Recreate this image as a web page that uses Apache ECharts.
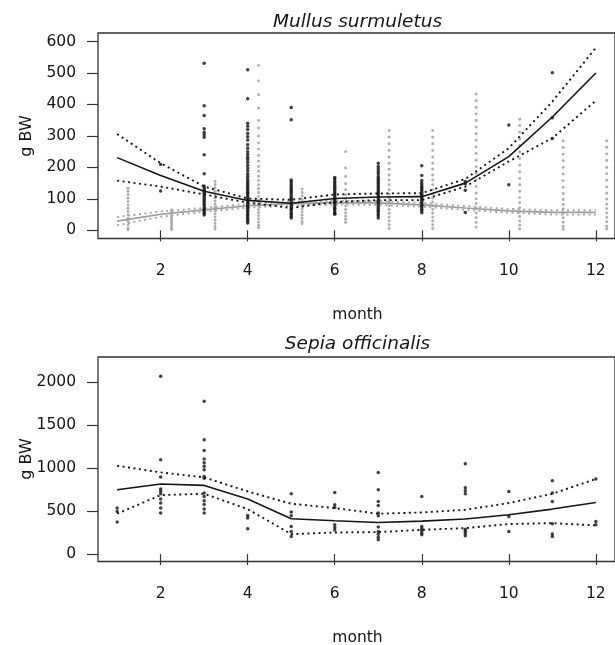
<!DOCTYPE html>
<html>
<head>
<meta charset="utf-8">
<script src="https://cdn.jsdelivr.net/npm/echarts/dist/echarts.min.js"></script>
<style>
html,body{margin:0;padding:0;background:#fff;}
#chart{width:615px;height:645px;}
</style>
</head>
<body>
<div id="chart"></div>
<script>
// ---------- DATA ----------
const months = [1,2,3,4,5,6,7,8,9,10,11,12];
const xTicks = [2,4,6,8,10,12];
const yTicksTop = [0,100,200,300,400,500,600];
const yTicksBottom = [0,500,1000,1500,2000];

const titleTop = "Mullus surmuletus";
const titleBottom = "Sepia officinalis";
const xName = "month";
const yName = "g BW";

// Mullus surmuletus: black points (at month)
const mullusBlack = [
  [],
  [209,125],
  [531,396,365,323,312,304,296,240,180,141,135,129,124,118,112,106,100,95,89,83,77,71,66,60,54,49],
  [510,418,340,331,320,308,297,287,272,261,250,241,232,225,216,207,198,189,180,172,164,157,151,145,139,133,127,121,116,110,104,98,93,87,81,75,70,64,58,52,47,41,35,29,23],
  [390,351,160,154,148,142,136,130,125,119,113,107,101,96,90,84,78,72,67,61,55,50,44,39],
  [168,163,157,151,145,140,134,128,122,117,111,105,99,93,88,82,76,70,65,59,54,51],
  [213,203,195,187,180,171,165,159,153,147,141,135,129,123,117,112,106,100,94,88,82,76,70,64,58,52,46,39],
  [205,174,158,150,144,138,133,127,121,115,109,103,98,92,86,80,74,68,62,56],
  [155,148,127,57],
  [335,145],
  [501,358,292],
  []
];
// Mullus surmuletus: grey points (plotted just right of each month)
const mullusGreyX = [1.25,2.25,3.25,4.25,5.25,6.25,7.25,8.25,9.25,10.25,11.25,12.25];
const mullusGrey = [
  [134,124,113,102,92,81,70,60,49,38,28,17,7,2],
  [65,58,50,42,35,28,21,14,7,2],
  [155,145,135,124,113,103,93,83,73,62,52,42,32,22,12,4],
  [524,475,431,388,349,325,300,278,258,238,220,203,188,172,158,145,132,120,108,96,86,76,66,56,46,36,26,16,8],
  [131,120,109,98,88,78,68,58,48,38,28,21],
  [250,198,171,148,129,113,100,88,77,66,55,45,35,25],
  [317,296,275,254,233,213,194,176,160,145,129,115,102,90,78,66,54,42,30,18,6],
  [317,296,275,254,233,213,194,176,160,145,129,115,102,90,78,66,54,42,30,18,6],
  [433,412,391,370,349,328,307,286,265,244,223,202,181,160,139,118,100,85,70,55,40,25,10],
  [353,333,312,290,270,249,228,207,186,165,145,124,104,88,72,58,44,30,16,4],
  [284,263,242,221,200,179,158,137,117,98,82,68,54,40,26,12,3],
  [284,264,243,222,200,180,159,138,118,99,83,69,55,41,27,13,4]
];
// Mullus fitted curves
const mullusBlackFit = [231,174,124,95,86,101,106,107,150,234,360,500];
const mullusBlackUp  = [306,213,139,101,97,114,117,118,163,261,409,580];
const mullusBlackLo  = [158,139,114,88,71,90,96,96,139,219,293,412];
const mullusGreyFit  = [29,51,65,78,85,88,87,81,71,62,57,57];
const mullusGreyUp   = [42,60,71,84,91,94,93,87,77,68,64,64];
const mullusGreyLo   = [16,43,59,72,79,82,81,75,65,56,50,50];

// Sepia officinalis points
const sepiaPts = [
  [535,496,372],
  [2065,1097,895,756,730,700,640,593,535,477],
  [1775,1329,1205,1105,1060,1020,980,902,880,709,670,620,575,525,477],
  [449,418,294],
  [701,488,445,321,263,205],
  [716,573,542,340,310,281],
  [949,748,612,565,477,445,314,263,230,195,166],
  [670,321,295,270,245,224],
  [1050,770,735,700,290,265,240,213],
  [728,437,263],
  [852,709,612,352,233,205],
  [872,379,341]
];
const sepiaFit = [748,814,798,639,410,387,368,383,407,457,523,600];
const sepiaUp  = [1027,949,891,728,585,535,469,484,515,593,701,872];
const sepiaLo  = [469,686,701,523,232,251,256,282,302,349,360,333];

// ---------- BUILD ----------
function pts(xs, groups){
  const out=[];
  groups.forEach((g,i)=>g.forEach(v=>out.push([xs[i],v])));
  return out;
}
function ln(vals){ return months.map((m,i)=>[m,vals[i]]); }

const FONT = "DejaVu Sans";
const TXT = "#151515";
const AX = "#333";

function xAxisCfg(gi){
  return {
    gridIndex: gi, type:'value', min:0.56, max:12.44,
    splitLine:{show:false}, axisLine:{show:false},
    axisTick:{show:true, length:11, customValues:xTicks, lineStyle:{color:AX,width:1.2}},
    axisLabel:{customValues:xTicks, margin:24, fontSize:15.5, fontFamily:FONT, color:TXT,
               formatter:(v)=>String(v)}
  };
}
function yAxisCfg(gi,min,max,ticks){
  return {
    gridIndex: gi, type:'value', min:min, max:max,
    splitLine:{show:false}, axisLine:{show:false},
    axisTick:{show:true, length:11, customValues:ticks, lineStyle:{color:AX,width:1.2}},
    axisLabel:{customValues:ticks, margin:22, fontSize:15.5, fontFamily:FONT, color:TXT,
               formatter:(v)=>String(v)}
  };
}
function lineS(xi, data, color, dotted, width, z){
  return {
    type:'line', xAxisIndex:xi, yAxisIndex:xi, data:data, showSymbol:false, symbol:'none',
    lineStyle:{color:color, width:width, type: dotted ? [2,3.5] : 'solid'},
    z:z, silent:true
  };
}
function scat(xi, data, color, size, z){
  return {
    type:'scatter', xAxisIndex:xi, yAxisIndex:xi, data:data, symbol:'circle', symbolSize:size,
    itemStyle:{color:color}, z:z, silent:true
  };
}

const option = {
  animation:false,
  backgroundColor:'#fff',
  grid:[
    {left:98, top:33, width:518, height:205.5, show:true, borderColor:AX, borderWidth:1.3, backgroundColor:'transparent'},
    {left:98, top:357, width:518, height:204.5, show:true, borderColor:AX, borderWidth:1.3, backgroundColor:'transparent'}
  ],
  xAxis:[xAxisCfg(0), xAxisCfg(1)],
  yAxis:[yAxisCfg(0,-26,627,yTicksTop), yAxisCfg(1,-86,2290,yTicksBottom)],
  series:[
    scat(0, pts(mullusGreyX, mullusGrey), '#999', 2.9, 2),
    lineS(0, ln(mullusGreyFit), '#9c9c9c', false, 1.7, 3),
    lineS(0, ln(mullusGreyUp), '#a5a5a5', true, 1.9, 3),
    lineS(0, ln(mullusGreyLo), '#a5a5a5', true, 1.9, 3),
    scat(0, pts(months, mullusBlack), '#111', 3.5, 4),
    lineS(0, ln(mullusBlackFit), '#151515', false, 1.6, 5),
    lineS(0, ln(mullusBlackUp), '#151515', true, 1.9, 5),
    lineS(0, ln(mullusBlackLo), '#151515', true, 1.9, 5),

    scat(1, pts(months, sepiaPts), '#111', 3.5, 4),
    lineS(1, ln(sepiaFit), '#151515', false, 1.6, 5),
    lineS(1, ln(sepiaUp), '#151515', true, 1.9, 5),
    lineS(1, ln(sepiaLo), '#151515', true, 1.9, 5)
  ],
  graphic:[
    {type:'text', x:357.5, y:22, style:{text:titleTop, font:'italic 18.5px "DejaVu Sans"', fill:TXT, textAlign:'center', textVerticalAlign:'middle'}},
    {type:'text', x:357.5, y:344, style:{text:titleBottom, font:'italic 18.5px "DejaVu Sans"', fill:TXT, textAlign:'center', textVerticalAlign:'middle'}},
    {type:'text', x:357.5, y:315, style:{text:xName, font:'15.5px "DejaVu Sans"', fill:TXT, textAlign:'center', textVerticalAlign:'middle'}},
    {type:'text', x:357.5, y:638, style:{text:xName, font:'15.5px "DejaVu Sans"', fill:TXT, textAlign:'center', textVerticalAlign:'middle'}},
    {type:'text', x:27, y:136, rotation:Math.PI/2, style:{text:yName, font:'16px "DejaVu Sans"', fill:TXT, textAlign:'center', textVerticalAlign:'middle'}},
    {type:'text', x:27, y:459, rotation:Math.PI/2, style:{text:yName, font:'16px "DejaVu Sans"', fill:TXT, textAlign:'center', textVerticalAlign:'middle'}}
  ]
};

const chart = echarts.init(document.getElementById('chart'), null, {renderer:'canvas', width:615, height:645});
chart.setOption(option);
</script>
</body>
</html>
